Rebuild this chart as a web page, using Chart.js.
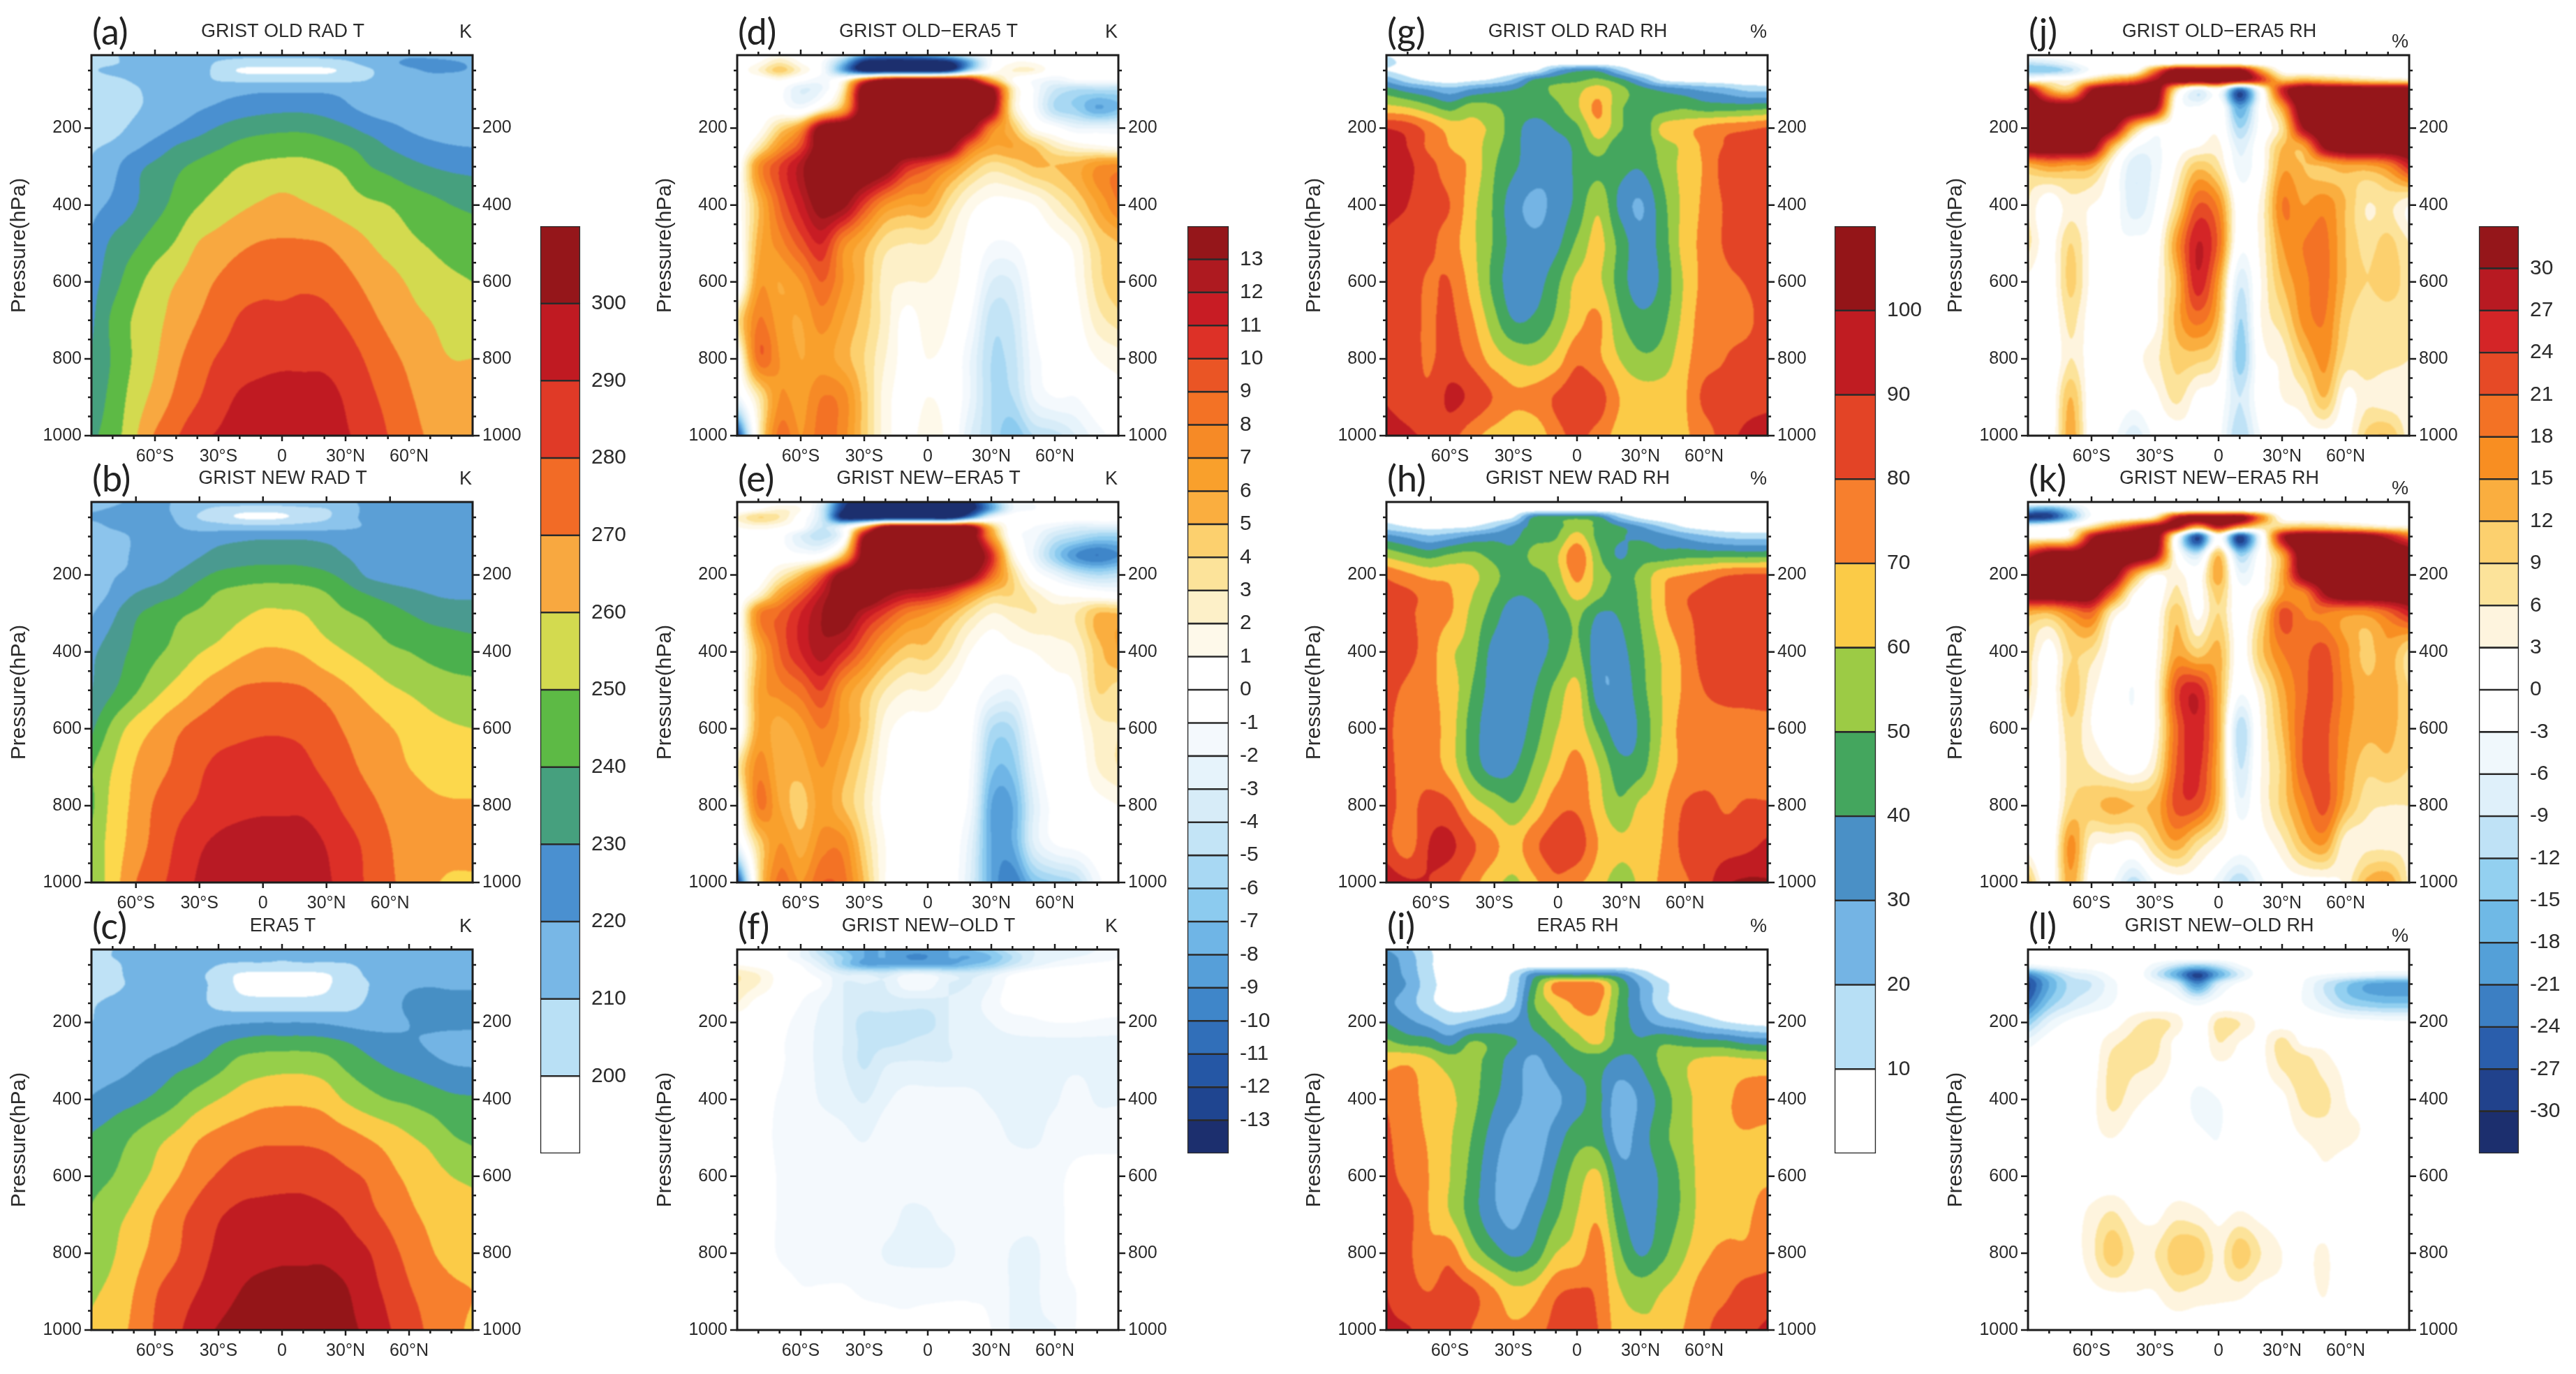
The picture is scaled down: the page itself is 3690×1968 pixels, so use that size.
<!DOCTYPE html>
<html>
<head>
<meta charset="utf-8">
<title>GRIST zonal mean T and RH</title>
<script src="https://cdn.jsdelivr.net/npm/chart.js@4"></script>
<style>
  html, body { margin: 0; background: #fff; overflow: hidden; }
  #page { position: relative; width: 3690px; height: 1968px; }
  canvas { position: absolute; }
</style>
</head>
<body>
<div id="page"></div>
<script>
// --- axes ---
const lats = [-90,-80,-70,-60,-50,-40,-30,-20,-10,0,10,20,30,40,50,60,70,80,90];
const pressures = [10,30,50,75,100,150,200,250,300,400,500,600,700,800,900,1000];
const latTicks = [-60,-30,0,30,60];
const latLabels = ['60°S','30°S','0','30°N','60°N'];
const pressureTicks = [200,400,600,800,1000];

// --- contour levels ---
const tLevels = [200,210,220,230,240,250,260,270,280,290,300];
const rhLevels = [10,20,30,40,50,60,70,80,90,100];
const tDiffLevels = [-13,-12,-11,-10,-9,-8,-7,-6,-5,-4,-3,-2,-1,0,1,2,3,4,5,6,7,8,9,10,11,12,13];
const rhDiffLevels = [-30,-27,-24,-21,-18,-15,-12,-9,-6,-3,0,3,6,9,12,15,18,21,24,27,30];

// --- colours, low to high ---
const tColors = ['#ffffff','#b9e0f5','#78b7e6','#4a90d0','#46a07e','#5dba45','#d3da4f','#f8a840','#f26b26','#e03a27','#c01a22','#95161a'];
const tNewColors = ['#ffffff','#bfe0f5','#8cc4ec','#5b9fd6','#4a9a90','#4bb04d','#a0cf4a','#fcd84c','#f99a36','#ee5b25','#dc2f27','#b81a24'];
const tEraColors = ['#ffffff','#bfe2f6','#73b4e4','#478fc4','#4caf5a','#96cf4a','#fbcb47','#f77f2d','#e34426','#c01c22','#941518','#941518'];
const rhColors = ['#ffffff','#b7dff5','#74b4e4','#4a90c6','#44a65e','#9ccb45','#fbcb47','#f77f2d','#e34426','#c01c22','#941518'];
const tDiffColors = ['#1c2f6e','#1f4590','#2557a5','#316fb9','#3f86c9','#569fd9','#6fb5e6','#8ccbef','#a8d8f3','#c3e4f6','#d7ecf8','#e6f3fb','#f4f9fd','#ffffff','#ffffff','#fef9ea','#fdf0c8','#fce39a','#fcd06e','#faae3f','#f9a02c','#f68a26','#f37225','#ea5525','#dd3127','#c81c24','#ae1a20','#95161a'];
const rhDiffColors = ['#1c2f6e','#21428c','#2a5eac','#3c7fc3','#54a0d8','#6fb9e6','#93d0f0','#bfe2f6','#dff0fa','#f0f8fc','#ffffff','#ffffff','#fef4de','#fce39a','#fcd06e','#faae3f','#f88e22','#f37225','#e64a26','#d42527','#b81a22','#95161a'];

// --- values, one row per pressure level, one column per latitude ---
const tOldRad = [
 [207,209,213,215,215,215,214,213,213,213,213,213,214,215,216,218,218,217,216],
 [208,209,213,215,215,214,209,206,205,205,205,206,208,213,217,222,222,221,219],
 [209,212,214,216,216,214,207,199,198,198,198,198,202,208,214,218,221,221,219],
 [206,208,211,214,215,213,209.5,208,207,207,207,207,208,210,214,216,216,215,215],
 [205,206,209,212,214,215,216,217,218,218,218,218,217,216,215,214,214,214,214],
 [204,205,209,212,215,219,222,225,227,228,228,226,222,218,215,214,213,212,212],
 [205,207,212,216,221,226,231,235,237,238,238,236,232,227,223,219,216,214,213],
 [209,212,218,224,231,235,239,243,245,246,246,244,241,236,230,226,223,221,220],
 [211,217,227,232,238,242,246,250,252,253,253,251,248,241,237,233,230,228,227],
 [217,222,229,236,243,249.5,254,258,261,263,261,258.5,255,252,250,246,243,240,238],
 [222,232,238,245,251,260,264,268,270.5,271,271,270,266,261,256,252,249,246,245],
 [226,236,246,254,260,266,271,275,277,277,278,277,273,268,264,259,255,252,250],
 [228,242,251,257,264,270,275,281,283,283,284,283,279,273,268,263,260,257,256],
 [231,241,251,259,268,275,281,285,287,288,288,288,285,279,273,268,263,260,260],
 [234,243,254,263,272,279,286,291,293,294,294,293,289,283,277,271,267,265,264],
 [238,245,258,271,279,287,291,294,296,297,297,296,291,287,280,273,269,266,265]
];
const tNewRad = [
 [216,218,222,223,219,217,216,217,217,217,217,217,218,222,224,224,224,221,220],
 [219,221,224,224,218,212,207,204,203,204,207,209,215,222,224,224,224,224,224],
 [221,222,224,224,219,210,205,199,198,199,204,208,216,222,224,224,224,224,224],
 [217,221,224,224,221,216,215,214,214,214,215,216,218,221,224,224,224,224,224],
 [214,216,221,223,224,225,226,227,228,228,228,227,226,225,224,224,224,224,224],
 [214,216,221,222,224,229,233,235,236,236,236,234,230,226,225,224,223,223,223],
 [212,219,222,225,231,237,242,244,245,245,244,242,237,229,226,224,223,222,222],
 [214,222,230,235,239,245,251,254,256,256,255,251,245,240,236,233,230,228,228],
 [219,228,238,243,248,251,254,258,261,261,260,255,251,248,244,240,237,236,235],
 [228,235,242,248,253,259,263,268,271,271,269,264,260,256,252,250,247,245,244],
 [230,239,248,257,264,271,277,281,282,282,281,277,272,267,262,259,256,254,253],
 [238,253,264,271,278,283,286,288,289,289,288,285,279,275,271,267,263,261,260],
 [249,260,270,276,282,288,292,293,293,293,292,288,283,278,274,270,267,265,264],
 [248,263,272,281,287,291,295,297,298,298,298,294,288,283,278,275,272,271,271],
 [253,264,274,283,291,298,302,304,305,305,304,300,294,288,281,276,275,274,274],
 [252,265,279,287,293,301,304,305,306,306,305,302,296,289,282,277,272,268,268]
];
const tEra = [
 [208,210,213,214,214,214,213,213,213,214,213,213,213,214,214,214,214,214,214],
 [208,210,213,214,214,214,213,213,213,211,213,213,213,214,214,214,214,214,214],
 [206,208,213,214,214,214,210,208,208,208,208,208,209,212,214,214,214,214,214],
 [204,207,213,214,214,212,206,199,198,198,198,199,205,211,214,215,215,215,215],
 [204,207,212,214,214,212,207,198,197,197,197,198,205,209.5,214,218,219,218,218],
 [209,212,214,215,215,213,207,204,203,203,203,204,206,211,215,222,224,224,224],
 [210,212,213,214,215,216,218,219,220,220,220,219,217,216,217,220,222,223,223],
 [212,213,214,216,219,223,228,232,234,234,234,233,230,226,223,221,219,216,215],
 [212,214,218,222,226,229,235,242,244,245,245,243,237,232,228,225,222,219,218],
 [221,225,228,232,238,245,250,254,257,258,258,256,249,244,240,238,235,232,231],
 [231,235,241,247,252,259,263,266,268,268,268,267,264,260,256,251,247,241,238],
 [236,240,246,252,259,266,271,275,276,277,277,275,272,269,263,258,254,250,248],
 [241,247,252,260,267,273,279,282,283,283,283,282,279,273,268,262,258,255,253],
 [241,249,256,263,269,276,282,286,287,288,288,288,285,281,274,267,261,257,255],
 [248,253,260,269,275,280,285,290,293,294,294,294,291,284,278,271,266,262,260],
 [252,256,262,271,278,285,291,295,297,298,298,297,293,288,281,275,268,263,258]
];
const tOldDiff = [
 [0,0,1,0,0,-3,-8,-9,-9,-8,-6,-3,-1,0,0,0,0,0,0],
 [0,1,3,1,-1,-7,-14,-15,-15,-15,-14,-8,-1,1,1,0,0,0,0],
 [0,2,4.5,2,-1,-8,-14,-15,-15,-15,-13,-5,0,2,2,0,0,0,0],
 [0,0,1,-0.5,-1.5,1,9,14,15,15,15,13,6,1,-1,-2,-1,-1,-1],
 [0,0,-0.5,-3,-2,3,15,16,16,16,16,16,14,3,-1,-4,-5,-5,-5],
 [-1,0,0,-1,2,6,15,16,16,16,16,16,14,3,-1,-5,-6,-8,-7],
 [-1,0.5,4,7,14.5,16,16,16,16,16,16,14,8,5,1,-0.5,-2,-2,-2],
 [-1,3,7,10,15,16,16,16,16,16,14,8.5,6,6,5,3,2,1.5,1],
 [-0.5,7,10,12.5,16,16,16,14.5,11,9.5,7.5,5,3.5,4,5,5,5.5,7,7.5],
 [0,5,9,11.5,14,13.5,10,7,6,6,3.5,1.5,0.5,0.5,1,2.5,4,6,8],
 [-0.5,5.5,7.5,9.5,11,7.5,5.5,3.5,3,3,2,0.5,-1,-1,0,0.5,1.5,4,5],
 [-1,6.5,6,7,9,7,5,2.5,2,2,1.5,0,-3,-3,-0.5,0,1,3.5,5],
 [3.5,8,6.5,6,7.5,6,4.5,2.5,0.5,1.5,1,-1,-4.5,-4,-1,0,0.5,2.5,3.5],
 [0,8.5,7,6,6.5,5.5,4,2,0.5,1,0.5,-2,-5,-4.5,-1.5,-0.5,0,1,1.5],
 [-2,3,7,6.5,8,7.5,4.5,1.5,0.5,1,0.5,-2,-5,-5,-2,-1,-1,0,0.5],
 [-13,2,8.5,7,8.5,7.5,4.5,1.5,0.5,1.5,0.5,-3,-5,-7,-5,-4.5,-3,-1.5,-0.5]
];
const tNewDiff = [
 [0,0,0,0,-3,-12,-14,-14,-14,-14,-14,-14,-8,-2,-1,-0.5,0,0,0],
 [0,1,2,1,-4,-13,-15,-15,-15,-15,-15,-14,-8,-2,-1,-0.5,0,0,0],
 [2,4,3,0,-4,-14,-15,-15,-15,-15,-15,-9,-2,0,0,0,0,0,0],
 [1,1.5,1,-0.5,-4,-2,5,14,15,15,15,14,5,0,-1,-2,-3,-3,-3],
 [0,0,-0.5,-3,-4.5,-1,13,16,16,16,16,15,7,0,-1.5,-4,-5,-6,-6],
 [-0.5,0,0,-0.5,0,5,14.5,16,16,16,16,16,11,2,-2,-6,-9,-10,-9],
 [-0.5,0,2.5,5,9,14.5,16,16,16,16,16,14,9,4,0,-2,-4,-5,-4.5],
 [-0.5,2,6,9,12,15,16,13.5,12,11.5,10,7,4.5,4,2.5,1,0.5,0,-0.5],
 [-0.5,7.5,9,11,13,14.5,12,10,8,7,5.5,3.5,2,2.5,3,2.5,3,5,5],
 [-0.5,5.5,9,11,12.5,11,8.5,6,4.5,4.5,3,1,0,0.5,1,1.5,2,4.5,6],
 [-0.5,6,7.5,8.5,10,7,5,3,2,2,1,0,-1.5,-2,0,0.5,1,4,3.5],
 [-1,6,5.5,6.5,8,6.5,4.5,1.5,0.5,0.5,0.5,-0.5,-5,-5,-1,0,0.5,2.5,3],
 [3,7.5,5.5,5.5,7,5.5,3.5,1,0,0.5,0.5,-1,-6.5,-6.5,-2,0,0,2,3],
 [0,8,6,4.5,6.5,5,3,0.5,0,0,0,-1.5,-8,-8,-3,-0.5,0,0.5,1],
 [-2,4,7,5.5,7.5,7.5,4,1,0,0,0,-2.5,-8,-8,-3,-1,-0.5,0,0],
 [-13,3,8.5,7,9,8.5,5,1,0,0,0,-3,-8,-10,-7,-6,-5,-1.5,0]
];
const tNewOld = [
 [0,0,-0.5,-2,-5,-7,-8,-8,-8.5,-8.5,-8,-7,-6,-4,-3,-3,-3,-2,-1.5],
 [0,0,-0.5,-2,-4,-6,-8,-8,-9,-9,-8,-8,-7,-5,-3,-2.5,-2,-1.5,-1],
 [1,0.5,0,-1,-3,-6,-8,-8,-8,-8,-8,-7,-6,-4,-2.5,-1.5,-1,-0.7,-0.7],
 [3,2,0.5,-0.5,-1.5,-3,-3,-3.5,-2,-2,-3,-3.5,-2.5,-1,0.1,0.5,0.8,0.8,0.8],
 [3,2,0.5,-0.5,-1,-3,-3,-3,-1.5,-1.5,-3,-3,-2,-0.5,0.1,0.5,0.8,0.8,0.8],
 [2,0.5,0,-1,-2,-3,-3.5,-3.5,-3.5,-3.5,-3,-2.5,-1.5,-0.5,-0.5,0,0,0,0],
 [0,0,-0.5,-1.5,-2.2,-3,-4.5,-4.5,-4.5,-4.5,-3,-2.5,-2,-1.5,-1.2,-1,-1,-1.2,-1.4],
 [0,-0.5,-0.8,-1.7,-2.2,-3,-4.3,-4.3,-4,-3.5,-3,-2.5,-2.3,-2.2,-2.2,-2.2,-2.2,-2.2,-2.2],
 [0,-0.5,-0.8,-1.7,-2.2,-3,-4.2,-3.2,-3,-3,-3,-2.5,-2.3,-2.2,-2.2,-2.2,-2.2,-2.2,-2.2],
 [0,-0.5,-1.1,-1.5,-2.1,-2.5,-3.1,-2.2,-1.6,-1.6,-1.6,-1.8,-2.1,-2.3,-2.2,-2.1,-1.6,-2.1,-2.1],
 [0,-0.5,-1.2,-1.3,-1.4,-1.7,-2.1,-1.4,-1.3,-1.3,-1.3,-1.4,-1.6,-2.1,-2.2,-1.6,-1.3,-1.3,-1.3],
 [0,-0.3,-1.1,-1.3,-1.3,-1.3,-1.3,-1.3,-1.3,-1.3,-1.3,-1.3,-1.3,-1.3,-1.3,-1.2,-0.8,-0.7,-0.7],
 [0,-0.3,-1.1,-1.3,-1.3,-1.3,-1.3,-1.4,-2.2,-2.1,-1.5,-1.3,-1.3,-1.5,-1.6,-1.2,-0.8,-0.7,-0.7],
 [0,-0.3,-1.1,-1.3,-1.3,-1.3,-1.4,-2.1,-2.3,-2.3,-2.2,-1.4,-1.3,-2.1,-2.2,-1.3,-0.8,-0.7,-0.7],
 [0,0,-0.4,-0.9,-0.9,-0.9,-1.1,-1.2,-1.3,-1.3,-1.2,-1.1,-1.2,-2.1,-2.2,-1.3,-1,-0.7,-0.3],
 [0,0,0,-0.2,-0.2,-0.3,-0.5,-0.7,-0.7,-0.4,-0.5,-0.7,-1,-2.1,-2.1,-2.1,-1,-0.3,0]
];
const rhOldRad = [
 [10,5,3,2,2,2,2,2,2,2,2,2,2,2,2,2,2,2,2],
 [14,6,3,3,3,3,3,3,3,3,3,3,3,3,3,3,3,3,3],
 [10,5,3,3,3,3,4,8,28,38,38,20,5,3,3,3,3,3,3],
 [28,15,8,5,8,12,22,42,46,48,52,44,28,10,6,5,4,3,3],
 [44,36,30,24,31,36,40,46,52,57,65,54,44,38,33,28,24,18,17],
 [65,62,55,48,56,53,45,43,47,58,72,52,46,47,50,47,47,48,50],
 [90,86,76,66,62,58,44,36.5,41,48,66,52,41,62,66,72,76,78,81],
 [94,90,78,70,66,54,44,33,34,43,55,42,42,54,62,72,81,84,85],
 [95,92,84,74,68,52,42,34,33,42,47,43,41,52,63,71,84,86,86],
 [93,90,83,80,64,50,34,28,33,43,58,38,29,46,62,72,81,85,86],
 [88,85,82,75,63,50,36,32,37,52,63,47,34,44,63,73,81,84,86],
 [86,84,79,80,66,48,34,35,47,62,62,46,34,42,60,73,78,80.5,85],
 [85,83,79,82,72,55,40,42,52,66,72,52,43,47,62,75,77,78,85],
 [86,84,79,84,78,66,59,57,64,78,72,60,52,54,66,76,80,83,85],
 [89,85,82,92,88,80,72,74,81,86,85,70,65,65,68,82,83,85,86],
 [95,92,88,84,74,66,62,62,76,82,76,66,64,64,68,75,85,93,98]
];
const rhNewRad = [
 [4,3,3,3,3,3,3,3,3,3,3,3,3,3,3,3,3,3,3],
 [5,3,3,3,3,3,3,3,3,3,3,3,3,3,3,3,3,3,3],
 [6,4,3,3,3,4,10,42,44,46,42,20,8,3,3,3,3,3,3],
 [15,10,7,8,10,18,32,44,47,55,48,41,31,20,10,6,4,4,4],
 [34,28,22,26,32,36,38,46,49,64,47,41,38,34,28,22,18,16,16],
 [58,52,47,52,54,47,42,54,58,78,52,39,46,44,47,47,48,47,48],
 [78,72,67,67,63,54,44,46,55,73,56,48,52,66,70,74,79,81,81],
 [84,82,76,71,61,50,41,42,49,64,53,44,52,68,78,82,85,86,86],
 [85,82,76,71,58,46,34,38,44,52,40,41,51,67,78,82,86,87,87],
 [86,83,75,62,55,37,31,36,43,52,33,36,48,61,72,84,86,87,87],
 [83,78,72,66,50,36,33,40,53,63,34,32,46,60,71,80,83,83,84],
 [82,76,74,65,46,34,33,45,59,65,48,34,42,60,73,75,76,77,77],
 [83,76,75,66,48,36,39,52,65,74,60,44,46,63,72,75,76,76,76],
 [84,77,84,82,66,58,51,62,76,78,64,52,62,68,80,83,79,81,81],
 [84,75,90,92,82,73,66,78,85,86,70,62,64,70,82,84,85,87,92],
 [98,92,90,84,74,64,58,68,78,72,64,56,62,72,78,85,98,102,101]
];
const rhEra = [
 [30,22,11,4,3,3,3,3,3,3,3,3,3,3,3,3,3,3,3],
 [35,25,12,5,3,3,3,3,3,3,3,3,3,3,3,3,3,3,3],
 [36,26,12,4,3,3,3,3,3,3,3,3,3,3,3,3,3,3,3],
 [37,27,13,4,3,3,12,35,38,38,38,34,18,6,3,3,3,3,3],
 [38,29,14,5,3,4,14,45,73,75,73,48,28,14,4,3,3,3,3],
 [33,25,13,6,5,8,18,50,63,72,72,48,30,14,6,4,3,3,3],
 [40,33,26,18,22,28,31,43,55,65,66,46,35,26,22,16,11,8,6],
 [52,46,44,36,50,47,41,36,44,55,62,45,41,48,46,43,42,37,35],
 [66,68,62,55,53,46,35,28,37,44,44,38,41,52,58,62,63,62,61],
 [78,75,66,62,54,42,34,25,28,36,42,24,32,44,56,64,68,74,77],
 [82,74,69,61,50,36,26,24,35,46,45,26,35,47,55,65,68,69,66],
 [84,76,70,60,47,32,24,28,42,55,62,36,33,42,52,65,68,69,69],
 [88,83,70,60,46,33,27,36,48,60,68,44,33,43,52,65,67,69,73],
 [88,82,73,76,58,46,38,44,60,65,75,52,39,47,58,68,72,72,76],
 [90,84,80,85,82,72,63,66,78,81,78,61,56,60,66,75,78,84,85],
 [92,91,86,86,80,74,72,75,84,85,80,65,62,62,70,78,85,88,92]
];
const rhOldDiff = [
 [0,0,0,0,0,0,0,0,0,0,0,0,0,0,0,0,0,0,0],
 [-10,-8,-4,0,0,0,0,0,0,0,0,0,0,0,0,0,-1,-1,0],
 [-14,-14,-10,-2,0,1,18,34,34,34,34,15,2,0,0,0,0,-1,0],
 [1,3,3,9,15,20,30,35,36,36,32,24,12,14,12,10,8,7,6],
 [33,14,10,30,36,36,36,8,-6,0,-24,0,26,36,36,36,36,36,36],
 [36,36,36,36,36,36,30,1,-2,2,-18,-1,14,36,36,36,36,36,36],
 [36,36,36,36,32,12,1,1,0,2,-12,-1,8,30,36,36,36,36,36],
 [36,36,36,33,12,-2,-4,1,3,4,-7,1,12,14,31,36,36,36,36],
 [12,15,14,13,2,-8,-5,3,11,7,-5,1,14,12,12,14,14,17,26],
 [6,0,5,3,0,-8,-3,8,21,17,0,4,18,15,17,12,6,7,3],
 [7,1,9,2,-2,-2,0,15,27,20,-1,4,15,18,19,12,8,10,6],
 [2,0,10,2,-1,-1,2,12,26,15,-8,3,12,17,19,12,9,11,7],
 [0,-1,7,1,0,0,2,13,19,12,-12,3,8,16,18,10,7,7,7],
 [0,-2,6,1,2,2,5,10,10,6,-14,1,4,11,16,8,8,7,6],
 [1,-1,12,0,1,-1,2,7,2,0,-9,0,3,5,12,2,5,4,4],
 [3,-1,14,0,-2,-8,-2,0,1,-2,-12,-3,0,1,1,1,10,12,4]
];
const rhNewDiff = [
 [0,0,0,0,0,0,0,0,0,0,0,0,0,0,0,0,0,0,0],
 [-18,-20,-12,-2,0,0,0,0,0,0,0,0,0,0,0,0,-1,-1,0],
 [-30,-28,-16,-2,0,2,7,28,34,34,34,18,2,0,0,0,0,-1,0],
 [-4,-1,2,8,17,25,32,31,14,28,15,8,10,12,11,9,7,5,4],
 [2,2,5,28,36,36,36,1,-27,0,-28,-3,28,36,36,36,34,28,20],
 [28,36,36,36,36,36,30,2,-8,12,-12,0,14,36,36,36,36,36,36],
 [36,36,36,36,34,15,3,5,0,14,-5,1,14,33,36,36,36,36,36],
 [36,36,36,34,20,3,0,7,1,10,-1,2,15,17,30,36,36,36,36],
 [13,12,17,20,5,1,1,11,2,9,0,8,22,18,18,16,16,20,26],
 [8,1,9,8,1,-1,2,14,10,13,1,11,18,20,22,16,11,14,8],
 [7,0,11,4,0,-3,3,22,26,14,-2,5,14,20,23,17,13,14,9],
 [3,-1,8,3,0,-2,3,20,26,14,-11,3,12,21,22,16,13,13,10],
 [1,-1,7,6,3,1,6,21,25,13,-9,3,10,21,22,15,10,11,9],
 [0,-2,9,11,13,12,13,22,22,12,-5,3,10,17,22,13,7,6,6],
 [1,-2,16,4,3,2,9,14,8,3,-1,1,5,12,15,4,5,5,5],
 [12,0,14,0,-3,-11,-3,0,0,-5,-12,-4,0,1,1,4,13,15,5]
];
const rhNewOld = [
 [0,0,0,0,0,0,0,0,0,0,0,0,0,0,0,0,0,0,0],
 [0,0,0,0,0,0,0,0,0,0,0,0,0,0,0,0,0,0,0],
 [-4,-2,-1,0,0,0,-4,-9,-12,-9,-3,-1,0,0,0,0,0,0,0],
 [-22,-14,-8,-6,-2,0,-8,-18,-28,-18,-8,-1,-2,-2,-3,-4,-5,-6,-6],
 [-28,-18,-11,-9,-4,0,-3,-8,-21,-8,-2,0,-1,-3,-9,-14,-18,-19,-19],
 [-24,-14,-9,-6,-3,0,0,-1,-4,-1,0,0,0,-3,-7,-12,-14,-15,-15],
 [-14,-6,-2,0,1,5,7,5,-1,7,6,2,1,1,0,-1,-1.5,-2,-2],
 [-5,-1,0,1,5,7,7,2,-1,6,3,2,7,2,2,1,1,1,1],
 [-1,0,0,1,7,7,6,2,0,3,2,2,7,7.5,4,2,2,2,2],
 [0,0,1,2,7,4,2,0,-4,-3,0,1,2,7,7,3,2.5,2.5,2.5],
 [0,0,0,2,3,1,0,0,-2,-3,0,0,1,3,4,3.5,2.5,1,0.5],
 [0,0,0,0.5,0.5,0,0,0,0,-1,0,0,0,1,2.5,1,0,0,0],
 [0,0,1,4,6.5,3,2,5,4,2,3.5,2,1,1,1,0,0,0,0],
 [0,0,1,5,11,6,6,11,11,5,11,6,3,2,3.5,0,0,0,0],
 [0,0,0,2,3,3,3,6,5,4,4,2,2,1.5,3.2,0,0,0,0],
 [1,0,0,0,0,0,0,0,0,0,0,0,0,0,1,0.5,0,0,0]
];

// --- layout of the 3 x 4 panel grid ---
const PLOT_W = 546, PLOT_H = 545, PAD_L = 131, PAD_R = 110, PAD_T = 80, PAD_B = 60;
const TEXT = '#2b2b2b', LINE = '#1d1d1d', FONT = '"Liberation Sans", Arial, sans-serif';
const page = document.getElementById('page');

function hexToRgb(c) {
    return [parseInt(c.slice(1,3),16), parseInt(c.slice(3,5),16), parseInt(c.slice(5,7),16)];
}

// Hermite interpolation on a possibly uneven grid, only used to draw smooth contour edges
function hermite(xs, ys, x) {
    const n = xs.length;
    let i = 0;
    while (i < n - 2 && x > xs[i+1]) i++;
    const h = xs[i+1] - xs[i];
    const t = Math.min(1, Math.max(0, (x - xs[i]) / h));
    const d0 = i > 0 ? (ys[i+1] - ys[i-1]) / (xs[i+1] - xs[i-1]) : (ys[1] - ys[0]) / h;
    const d1 = i < n - 2 ? (ys[i+2] - ys[i]) / (xs[i+2] - xs[i]) : (ys[n-1] - ys[n-2]) / h;
    const t2 = t * t, t3 = t2 * t;
    return (2*t3 - 3*t2 + 1) * ys[i] + (t3 - 2*t2 + t) * h * d0 + (-2*t3 + 3*t2) * ys[i+1] + (t3 - t2) * h * d1;
}

// Stops tick labels from shrinking the plot area
function noLabelPadding(s) {
    s.paddingTop = 0; s.paddingBottom = 0; s.paddingLeft = 0; s.paddingRight = 0;
}

// Filled contours, pixel positions come from the chart's own scales
const contourPlugin = {
    id: 'contour',
    beforeDatasetsDraw(chart) {
        const ds = chart.data.datasets[0];
        const { left, top, width, height } = chart.chartArea;
        const xScale = chart.scales.x, yScale = chart.scales.y;
        const w = Math.round(width), h = Math.round(height);
        const off = document.createElement('canvas');
        off.width = w; off.height = h;
        const octx = off.getContext('2d');
        const img = octx.createImageData(w, h);
        const rgb = ds.colors.map(hexToRgb);
        const columns = lats.map(l => l + ds.latShift);
        const rows = ds.grid;
        const yVals = [];
        for (let py = 0; py < h; py++) yVals.push(yScale.getValueForPixel(top + py + 0.5));
        for (let px = 0; px < w; px++) {
            const lon = xScale.getValueForPixel(left + px + 0.5);
            const profile = rows.map(r => hermite(columns, r, lon));
            for (let py = 0; py < h; py++) {
                const v = hermite(pressures, profile, yVals[py]);
                let idx = 0;
                while (idx < ds.levels.length && v >= ds.levels[idx]) idx++;
                const c = rgb[idx], o = (py * w + px) * 4;
                img.data[o] = c[0]; img.data[o+1] = c[1]; img.data[o+2] = c[2]; img.data[o+3] = 255;
            }
        }
        octx.putImageData(img, 0, 0);
        const ctx = chart.ctx;
        ctx.save();
        ctx.beginPath();
        ctx.rect(left, top, width, height);
        ctx.clip();
        ctx.drawImage(off, left, top);
        ctx.filter = 'blur(1.2px)';
        ctx.drawImage(off, left, top);
        ctx.restore();
    }
};

// Frame, tick marks on all four sides, panel letter, title and unit
const framePlugin = {
    id: 'frame',
    afterDraw(chart) {
        const ctx = chart.ctx;
        const a = chart.chartArea;
        const ds = chart.data.datasets[0];
        const xScale = chart.scales.x, yScale = chart.scales.y;
        ctx.save();
        ctx.strokeStyle = LINE;
        ctx.lineWidth = 2.5;
        ctx.beginPath();
        for (let v = -90; v <= 110; v += 10) {
            if (v <= xScale.min || v >= xScale.max) continue;
            const major = latTicks.includes(v);
            if (!major && !ds.minorLat) continue;
            const x = xScale.getPixelForValue(v), len = major ? 8 : 5;
            ctx.moveTo(x, a.bottom); ctx.lineTo(x, a.bottom + len);
            ctx.moveTo(x, a.top); ctx.lineTo(x, a.top - len);
        }
        for (let p = 50; p <= 1000; p += 50) {
            const y = yScale.getPixelForValue(p), len = p % 200 === 0 ? 10 : 5;
            ctx.moveTo(a.left, y); ctx.lineTo(a.left - len, y);
            ctx.moveTo(a.right, y); ctx.lineTo(a.right + len, y);
        }
        ctx.stroke();
        ctx.lineWidth = 3;
        ctx.strokeRect(a.left, a.top, a.right - a.left, a.bottom - a.top);

        ctx.fillStyle = TEXT;
        ctx.textBaseline = 'middle';
        ctx.textAlign = 'center';
        ctx.font = '27px ' + FONT;
        ctx.fillText(ds.title, (a.left + a.right) / 2 + 1, a.top - 33);
        ctx.textAlign = 'right';
        ctx.fillText(ds.unit, a.right - 1 + ds.unitDx, a.top - ds.unitUp);
        ctx.textAlign = 'left';
        ctx.fillStyle = '#222';
        ctx.font = '52px Lato, ' + FONT;
        ctx.fillText(ds.letter, a.left + 1, a.top - 32);
        ctx.restore();
    }
};

function addCanvas(x, y, w, h) {
    const c = document.createElement('canvas');
    c.width = w; c.height = h;
    c.style.left = x + 'px'; c.style.top = y + 'px';
    c.style.width = w + 'px'; c.style.height = h + 'px';
    page.appendChild(c);
    return c.getContext('2d');
}

function drawPanel(plotX, plotY, letter, title, unit, grid, levels, colors, extra) {
    const opt = Object.assign({ latShift: 0, minorLat: true, unitUp: 32, unitDx: 0 }, extra);
    const ctx = addCanvas(plotX - PAD_L, plotY - PAD_T, PAD_L + PLOT_W + PAD_R, PAD_T + PLOT_H + PAD_B);
    const points = [];
    grid.forEach((row, r) => row.forEach((v, c) => points.push({ x: lats[c] + opt.latShift, y: pressures[r], v })));
    const pTicks = [];
    for (let p = 50; p <= 1000; p += 50) pTicks.push(p);
    const pressureAxis = (position) => ({
        type: 'linear', position, min: 10, max: 1000, reverse: true,
        afterBuildTicks: s => { s.ticks = pTicks.map(value => ({ value })); },
        afterFit: s => { s.width = position === 'left' ? PAD_L : PAD_R; noLabelPadding(s); },
        grid: { display: false, drawTicks: false },
        border: { display: false },
        ticks: {
            autoSkip: false, padding: 14, color: TEXT, font: { size: 25, family: FONT },
            callback: v => pressureTicks.includes(v) ? String(v) : ''
        }
    });
    return new Chart(ctx, {
        type: 'scatter',
        data: { datasets: [{
            data: points, pointRadius: 0, grid, levels, colors, letter, title, unit,
            latShift: opt.latShift, minorLat: opt.minorLat, unitUp: opt.unitUp, unitDx: opt.unitDx
        }] },
        plugins: [contourPlugin, framePlugin],
        options: {
            responsive: false, animation: false, events: [],
            layout: { padding: { top: PAD_T } },
            plugins: { legend: { display: false }, tooltip: { enabled: false } },
            scales: {
                x: {
                    type: 'linear', position: 'bottom',
                    min: -90 + opt.latShift, max: 90 + opt.latShift,
                    afterBuildTicks: s => { s.ticks = latTicks.map(value => ({ value })); },
                    afterFit: s => { s.height = PAD_B; noLabelPadding(s); },
                    grid: { display: false, drawTicks: false },
                    border: { display: false },
                    ticks: {
                        autoSkip: false, maxRotation: 0, padding: 15, color: TEXT, font: { size: 25, family: FONT },
                        callback: v => latLabels[latTicks.indexOf(v)]
                    }
                },
                y: Object.assign(pressureAxis('left'), {
                    title: { display: true, text: 'Pressure(hPa)', color: TEXT, font: { size: 30, family: FONT }, padding: { top: 10, bottom: 0 } }
                }),
                y2: pressureAxis('right')
            }
        }
    });
}

function drawColorbar(x, width, levels, colors) {
    const top = 324, height = 1328, pad = 3;
    const ctx = addCanvas(x - pad, top - pad, width + pad + 100, height + pad * 2);
    const ticks = levels.map((_, i) => i + 1);
    return new Chart(ctx, {
        type: 'bar',
        data: {
            labels: [''],
            datasets: colors.map((c, i) => ({
                data: [[i, i + 1]], backgroundColor: c, borderColor: '#2a2a2a', borderWidth: 1.6,
                borderSkipped: false, barPercentage: 1, categoryPercentage: 1, grouped: false, clip: false
            }))
        },
        options: {
            responsive: false, animation: false, events: [],
            layout: { padding: { left: pad, top: pad, bottom: pad } },
            plugins: { legend: { display: false }, tooltip: { enabled: false } },
            scales: {
                x: { display: false },
                y: {
                    position: 'right', min: 0, max: colors.length,
                    afterBuildTicks: s => { s.ticks = ticks.map(value => ({ value })); },
                    afterFit: s => { s.width = 100; noLabelPadding(s); },
                    grid: { display: false, drawTicks: false },
                    border: { display: false },
                    ticks: {
                        autoSkip: false, padding: 16, color: TEXT, font: { size: 30, family: FONT },
                        callback: v => String(levels[v - 1])
                    }
                }
            }
        }
    });
}

const rowY = [79, 719, 1360];
const colX = [131, 1056, 1986, 2905];

drawPanel(colX[0], rowY[0], '(a)', 'GRIST OLD RAD T', 'K', tOldRad, tLevels, tColors);
drawPanel(colX[0], rowY[1], '(b)', 'GRIST NEW RAD T', 'K', tNewRad, tLevels, tNewColors, { latShift: 9, minorLat: false });
drawPanel(colX[0], rowY[2], '(c)', 'ERA5 T', 'K', tEra, tLevels, tEraColors);
drawPanel(colX[1], rowY[0], '(d)', 'GRIST OLD−ERA5 T', 'K', tOldDiff, tDiffLevels, tDiffColors);
drawPanel(colX[1], rowY[1], '(e)', 'GRIST NEW−ERA5 T', 'K', tNewDiff, tDiffLevels, tDiffColors);
drawPanel(colX[1], rowY[2], '(f)', 'GRIST NEW−OLD T', 'K', tNewOld, tDiffLevels, tDiffColors);
drawPanel(colX[2], rowY[0], '(g)', 'GRIST OLD RAD RH', '%', rhOldRad, rhLevels, rhColors);
drawPanel(colX[2], rowY[1], '(h)', 'GRIST NEW RAD RH', '%', rhNewRad, rhLevels, rhColors, { latShift: 9, minorLat: false });
drawPanel(colX[2], rowY[2], '(i)', 'ERA5 RH', '%', rhEra, rhLevels, rhColors);
drawPanel(colX[3], rowY[0], '(j)', 'GRIST OLD−ERA5 RH', '%', rhOldDiff, rhDiffLevels, rhDiffColors, { unitUp: 18 });
drawPanel(colX[3], rowY[1], '(k)', 'GRIST NEW−ERA5 RH', '%', rhNewDiff, rhDiffLevels, rhDiffColors, { unitUp: 18 });
drawPanel(colX[3], rowY[2], '(l)', 'GRIST NEW−OLD RH', '%', rhNewOld, rhDiffLevels, rhDiffColors, { unitUp: 18 });

drawColorbar(774, 57, tLevels, tColors);
drawColorbar(1701, 59, tDiffLevels, tDiffColors);
drawColorbar(2628, 59, rhLevels, rhColors);
drawColorbar(3551, 57, rhDiffLevels, rhDiffColors);
</script>
</body>
</html>
